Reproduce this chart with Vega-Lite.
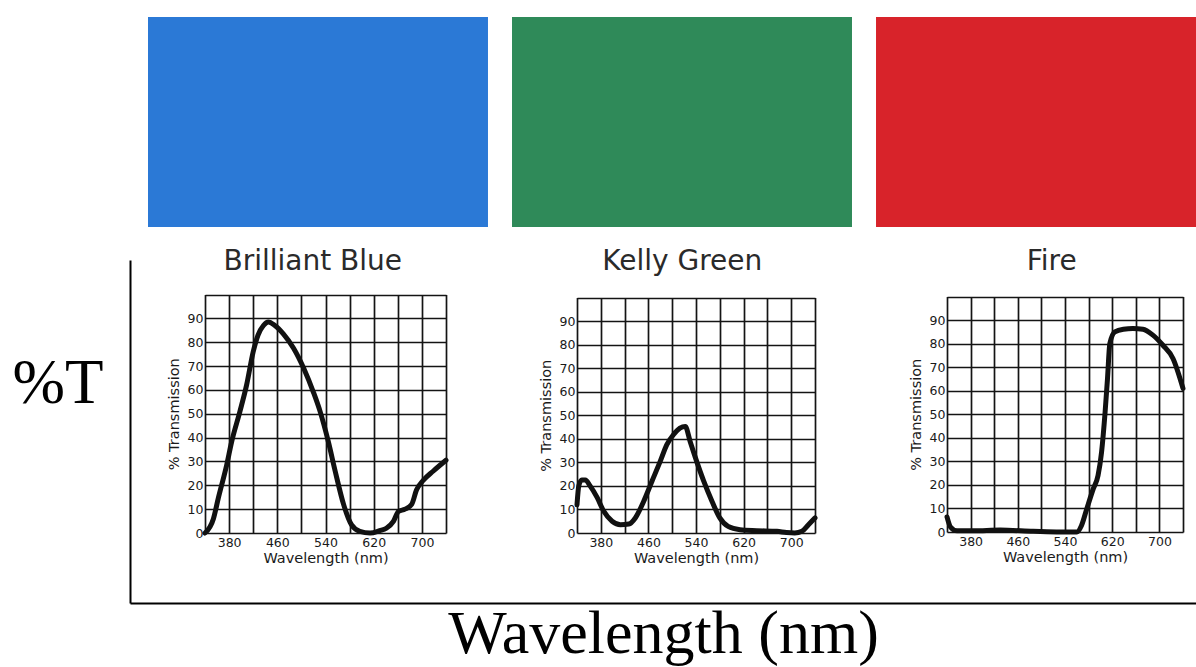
{
  "$schema": "https://vega.github.io/schema/vega-lite/v6.json",
  "width": 1196,
  "height": 667,
  "autosize": {"type": "none"},
  "padding": 0,
  "background": "white",
  "config": {
    "view": {"stroke": null},
    "axis": {
      "labelFont": "DejaVu Sans",
      "labelFontSize": 12.5,
      "labelColor": "#1a1a1a",
      "titleFont": "DejaVu Sans",
      "titleFontSize": 14.5,
      "titleFontWeight": "normal",
      "titleColor": "#1a1a1a",
      "gridColor": "#141414",
      "gridOpacity": 1,
      "gridWidth": 1.7,
      "ticks": false,
      "domain": false,
      "labelPadding": 3
    }
  },
  "datasets": {
    "filters": [
      {"filter": "Brilliant Blue"},
      {"filter": "Kelly Green"},
      {"filter": "Fire"}
    ],
    "blue": [
      {"wl": 340, "T": 0}, {"wl": 354, "T": 6}, {"wl": 362, "T": 14.5}, {"wl": 376, "T": 28.5},
      {"wl": 384, "T": 38}, {"wl": 398, "T": 51}, {"wl": 409, "T": 62}, {"wl": 420, "T": 76},
      {"wl": 428, "T": 83}, {"wl": 437, "T": 87}, {"wl": 445, "T": 88.5}, {"wl": 456, "T": 87},
      {"wl": 470, "T": 83.5}, {"wl": 487, "T": 77.5}, {"wl": 504, "T": 69}, {"wl": 520, "T": 59},
      {"wl": 531, "T": 51}, {"wl": 545, "T": 38}, {"wl": 556, "T": 26}, {"wl": 570, "T": 12},
      {"wl": 583, "T": 3.5}, {"wl": 597, "T": 0.7}, {"wl": 614, "T": 0}, {"wl": 630, "T": 1},
      {"wl": 641, "T": 2}, {"wl": 653, "T": 5}, {"wl": 661, "T": 9}, {"wl": 672, "T": 10},
      {"wl": 683, "T": 12}, {"wl": 691, "T": 18}, {"wl": 702, "T": 22}, {"wl": 719, "T": 26},
      {"wl": 740, "T": 30.5}
    ],
    "green": [
      {"wl": 340, "T": 12}, {"wl": 343, "T": 20}, {"wl": 348, "T": 22.5}, {"wl": 354, "T": 22.5},
      {"wl": 362, "T": 20}, {"wl": 374, "T": 15}, {"wl": 385, "T": 9.2}, {"wl": 399, "T": 5},
      {"wl": 413, "T": 3.5}, {"wl": 427, "T": 3.8}, {"wl": 438, "T": 6.4}, {"wl": 452, "T": 13.4},
      {"wl": 466, "T": 22}, {"wl": 480, "T": 30.5}, {"wl": 491, "T": 37.5}, {"wl": 502, "T": 41.7},
      {"wl": 513, "T": 44.5}, {"wl": 522, "T": 45.2}, {"wl": 530, "T": 39}, {"wl": 539, "T": 32},
      {"wl": 553, "T": 22}, {"wl": 567, "T": 13.4}, {"wl": 580, "T": 6.4}, {"wl": 594, "T": 2.8},
      {"wl": 614, "T": 1.4}, {"wl": 642, "T": 1}, {"wl": 676, "T": 0.7}, {"wl": 692, "T": 0.2},
      {"wl": 706, "T": 0}, {"wl": 718, "T": 0.7}, {"wl": 729, "T": 3.5}, {"wl": 740, "T": 6.4}
    ],
    "fire": [
      {"wl": 340, "T": 6.4}, {"wl": 346, "T": 2.1}, {"wl": 357, "T": 0.5}, {"wl": 385, "T": 0.5},
      {"wl": 430, "T": 0.8}, {"wl": 486, "T": 0.3}, {"wl": 532, "T": 0}, {"wl": 560, "T": 0},
      {"wl": 568, "T": 2.8}, {"wl": 577, "T": 9.9}, {"wl": 588, "T": 18.4}, {"wl": 596, "T": 24},
      {"wl": 602, "T": 34}, {"wl": 608, "T": 51}, {"wl": 612, "T": 65}, {"wl": 616, "T": 80},
      {"wl": 624.5, "T": 85}, {"wl": 639, "T": 86.1}, {"wl": 655, "T": 86.4}, {"wl": 672, "T": 86.1},
      {"wl": 689, "T": 83.6}, {"wl": 706, "T": 79.3}, {"wl": 723, "T": 73.7}, {"wl": 740, "T": 61}
    ]
  },
  "resolve": {
    "scale": {"x": "independent", "y": "independent", "color": "independent"},
    "axis": {"x": "independent", "y": "independent"}
  },
  "layer": [
    {
      "data": {"name": "filters"},
      "mark": {"type": "rule", "opacity": 0},
      "encoding": {
        "x": {
          "datum": 0, "type": "quantitative",
          "scale": {"domain": [0, 1], "range": [130, 1196], "nice": false, "zero": false},
          "axis": {
            "orient": "bottom", "offset": -64, "domain": true, "domainColor": "black", "domainWidth": 2,
            "ticks": false, "labels": false, "grid": false,
            "title": "Wavelength (nm)", "titleFont": "Liberation Serif", "titleFontSize": 62,
            "titleFontWeight": "normal", "titleColor": "black", "titlePadding": 0
          }
        },
        "y": {
          "datum": 0, "type": "quantitative",
          "scale": {"domain": [0, 1], "range": [603, 260], "nice": false, "zero": false},
          "axis": {
            "orient": "left", "offset": -130, "domain": true, "domainColor": "black", "domainWidth": 2,
            "ticks": false, "labels": false, "grid": false,
            "title": "%T", "titleFont": "Liberation Serif", "titleFontSize": 63,
            "titleFontWeight": "normal", "titleColor": "black", "titleAngle": 0,
            "titleAlign": "right", "titleBaseline": "middle", "titleX": -27, "titleY": 383
          }
        }
      }
    },
    {
      "data": {"name": "filters"},
      "mark": {"type": "rect"},
      "encoding": {
        "x": {
          "field": "filter", "type": "nominal", "sort": null,
          "scale": {"type": "band", "domain": ["Brilliant Blue", "Kelly Green", "Fire"], "range": [148, 1216], "paddingInner": 0.066, "paddingOuter": 0},
          "axis": null
        },
        "y": {
          "datum": "swatch", "type": "nominal",
          "scale": {"type": "band", "domain": ["swatch"], "range": [17, 227], "paddingInner": 0, "paddingOuter": 0},
          "axis": null
        },
        "color": {
          "field": "filter", "type": "nominal",
          "scale": {"domain": ["Brilliant Blue", "Kelly Green", "Fire"], "range": ["#2b79d6", "#2f8a59", "#d8232a"]},
          "legend": null
        }
      }
    },
    {
      "data": {"name": "filters"},
      "mark": {"type": "text", "font": "DejaVu Sans", "fontSize": 28, "color": "#2a2a2a", "baseline": "middle", "align": "center"},
      "encoding": {
        "x": {
          "field": "filter", "type": "nominal", "sort": null,
          "scale": {"type": "band", "domain": ["Brilliant Blue", "Kelly Green", "Fire"], "range": [128, 1236.5], "paddingInner": 0, "paddingOuter": 0},
          "axis": null
        },
        "y": {
          "datum": "title", "type": "nominal",
          "scale": {"type": "band", "domain": ["title"], "range": [252, 272], "paddingInner": 0, "paddingOuter": 0},
          "axis": null
        },
        "text": {"field": "filter"}
      }
    },
    {
      "data": {"name": "blue"},
      "resolve": {"axis": {"x": "independent", "y": "independent"}},
      "layer": [
        {
          "mark": {"type": "line", "opacity": 0},
          "encoding": {
            "x": {
              "field": "wl", "type": "quantitative",
              "scale": {"domain": [340, 740], "range": [205, 446], "nice": false, "zero": false},
              "axis": {"orient": "top", "values": [340, 380, 420, 460, 500, 540, 580, 620, 660, 700, 740], "labels": false, "ticks": false, "domain": false, "grid": true, "title": null}
            },
            "y": {
              "field": "T", "type": "quantitative",
              "scale": {"domain": [0, 100], "range": [533, 294.5], "nice": false, "zero": false},
              "axis": {"orient": "left", "offset": -205, "values": [0, 10, 20, 30, 40, 50, 60, 70, 80, 90, 100], "grid": true, "labelPadding": 2, "labelExpr": "datum.value == 100 ? '' : datum.label", "title": "% Transmission", "titlePadding": 6}
            }
          }
        },
        {
          "mark": {"type": "line", "stroke": "#111111", "strokeWidth": 5, "interpolate": "monotone", "strokeCap": "round", "strokeJoin": "round"},
          "encoding": {
            "x": {
              "field": "wl", "type": "quantitative",
              "axis": {"orient": "bottom", "offset": -134, "values": [380, 460, 540, 620, 700], "grid": false, "title": "Wavelength (nm)", "titlePadding": 3}
            },
            "y": {"field": "T", "type": "quantitative", "axis": null}
          }
        }
      ]
    },
    {
      "data": {"name": "green"},
      "resolve": {"axis": {"x": "independent", "y": "independent"}},
      "layer": [
        {
          "mark": {"type": "line", "opacity": 0},
          "encoding": {
            "x": {
              "field": "wl", "type": "quantitative",
              "scale": {"domain": [340, 740], "range": [577, 815], "nice": false, "zero": false},
              "axis": {"orient": "top", "values": [340, 380, 420, 460, 500, 540, 580, 620, 660, 700, 740], "labels": false, "ticks": false, "domain": false, "grid": true, "title": null}
            },
            "y": {
              "field": "T", "type": "quantitative",
              "scale": {"domain": [0, 100], "range": [533, 297.5], "nice": false, "zero": false},
              "axis": {"orient": "left", "offset": -577, "values": [0, 10, 20, 30, 40, 50, 60, 70, 80, 90, 100], "grid": true, "labelPadding": 2, "labelExpr": "datum.value == 100 ? '' : datum.label", "title": "% Transmission", "titlePadding": 6}
            }
          }
        },
        {
          "mark": {"type": "line", "stroke": "#111111", "strokeWidth": 5, "interpolate": "monotone", "strokeCap": "round", "strokeJoin": "round"},
          "encoding": {
            "x": {
              "field": "wl", "type": "quantitative",
              "axis": {"orient": "bottom", "offset": -134, "values": [380, 460, 540, 620, 700], "grid": false, "title": "Wavelength (nm)", "titlePadding": 3}
            },
            "y": {"field": "T", "type": "quantitative", "axis": null}
          }
        }
      ]
    },
    {
      "data": {"name": "fire"},
      "resolve": {"axis": {"x": "independent", "y": "independent"}},
      "layer": [
        {
          "mark": {"type": "line", "opacity": 0},
          "encoding": {
            "x": {
              "field": "wl", "type": "quantitative",
              "scale": {"domain": [340, 740], "range": [947, 1183], "nice": false, "zero": false},
              "axis": {"orient": "top", "values": [340, 380, 420, 460, 500, 540, 580, 620, 660, 700, 740], "labels": false, "ticks": false, "domain": false, "grid": true, "title": null}
            },
            "y": {
              "field": "T", "type": "quantitative",
              "scale": {"domain": [0, 100], "range": [532, 296.5], "nice": false, "zero": false},
              "axis": {"orient": "left", "offset": -947, "values": [0, 10, 20, 30, 40, 50, 60, 70, 80, 90, 100], "grid": true, "labelPadding": 2, "labelExpr": "datum.value == 100 ? '' : datum.label", "title": "% Transmission", "titlePadding": 6}
            }
          }
        },
        {
          "mark": {"type": "line", "stroke": "#111111", "strokeWidth": 5, "interpolate": "monotone", "strokeCap": "round", "strokeJoin": "round"},
          "encoding": {
            "x": {
              "field": "wl", "type": "quantitative",
              "axis": {"orient": "bottom", "offset": -135, "values": [380, 460, 540, 620, 700], "grid": false, "title": "Wavelength (nm)", "titlePadding": 3}
            },
            "y": {"field": "T", "type": "quantitative", "axis": null}
          }
        }
      ]
    }
  ]
}
